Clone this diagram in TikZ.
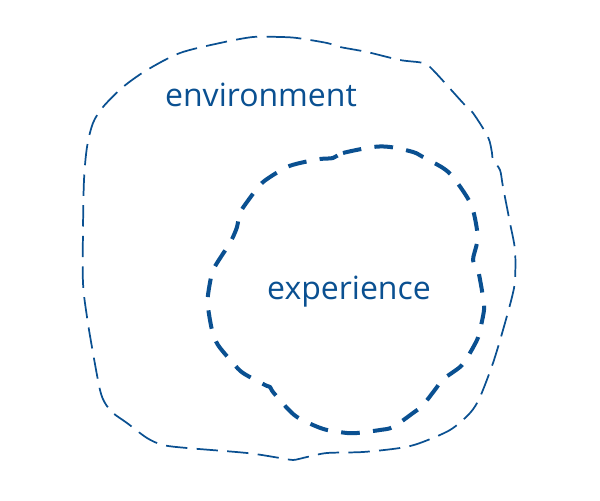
\documentclass[tikz,border=0pt]{standalone}
\usepackage{fontspec}
\setmainfont{Open Sans}
\usepackage{tikz}
\usetikzlibrary{positioning}
\definecolor{inkblue}{RGB}{10,80,145}

\begin{document}
\begin{tikzpicture}[x=0.75pt, y=-0.75pt,
  label/.style={text=inkblue, font=\fontsize{24}{28}\selectfont, inner sep=0pt},
  outerline/.style={draw=inkblue, line width=1.3pt, dash pattern=on 16pt off 7pt, smooth cycle, tension=0.5},
  innerline/.style={draw=inkblue, line width=3pt, dash pattern=on 14pt off 10pt, smooth cycle, tension=0.5}]
\useasboundingbox (0,0) rectangle (600,500);

% environment (outer loop)
\draw[outerline] plot coordinates {(253,37) (280,37) (297,38) (327,43) (340,47) (367,52) (400,60)
  (423,63) (433,70) (463,103) (473,113) (488,137) (492,153) (493,160) (500,170) (503,187)
  (510,223) (515,250) (515,280) (512,297) (503,330) (493,363) (480,397) (470,413) (450,430)
  (420,443) (400,448) (363,452) (327,453) (307,457) (293,460) (280,458) (247,453) (187,448)
  (163,445) (147,438) (127,423) (113,413) (105,403) (100,390) (93,353) (87,317) (83,283)
  (83,230) (84,180) (87,147) (93,123) (103,107) (123,87) (147,70) (180,53) (220,43)};

% experience (inner loop)
\draw[innerline] plot coordinates {(333,158) (343,153) (373,147) (390,147) (413,152) (423,157)
  (443,168) (453,177) (467,197) (473,210) (477,230) (477,243) (473,260) (478,270) (483,297)
  (484,310) (480,330) (477,340) (467,358) (460,367) (442,380) (437,387) (423,405) (413,413)
  (393,427) (380,430) (357,433) (347,433) (327,430) (313,425) (297,417) (287,408) (273,392)
  (270,387) (265,385) (243,373) (233,363) (218,345) (212,330) (208,307) (208,295) (212,273)
  (217,263) (230,243) (233,237) (237,227) (240,213) (247,202) (260,185) (270,177) (287,167)
  (300,163) (320,159)};

\node[label] (env) at (261,95) {environment};
\node[label] (exp) at (349,292) {experience};
\end{tikzpicture}
\end{document}
